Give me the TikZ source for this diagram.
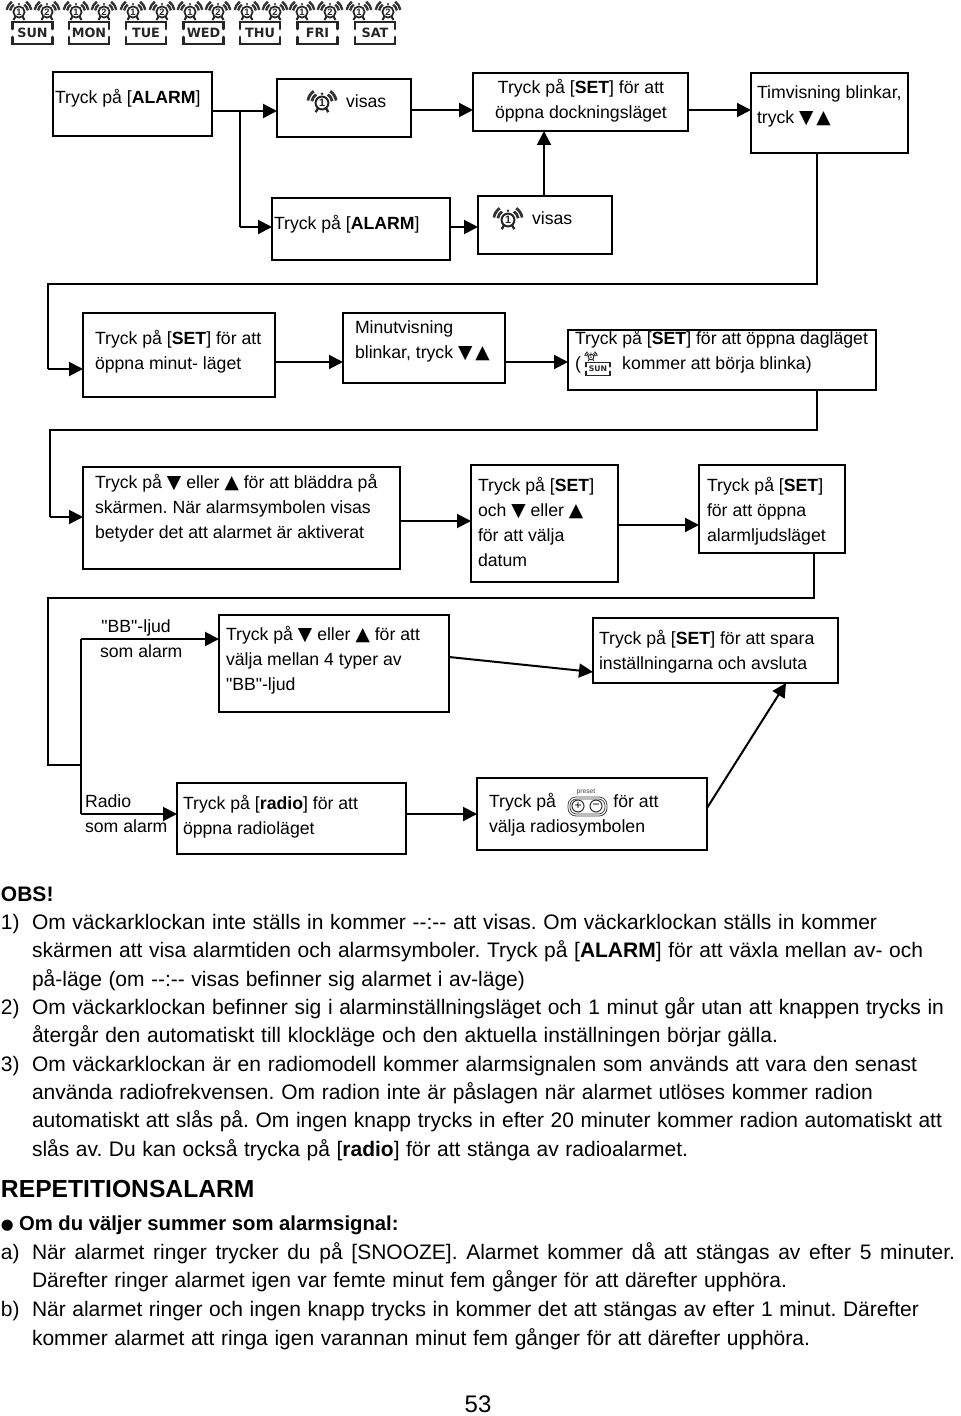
\documentclass[tikz,border=0pt]{standalone}
\usepackage{fontspec}
\setmainfont{Liberation Sans}
\newfontfamily\symf{DejaVu Sans}
\newfontfamily\qf{Liberation Sans}
\usetikzlibrary{arrows.meta}
\frenchspacing
\newcommand\dn{{\symf\fontsize{14}{14}\selectfont ▼}}
\newcommand\up{{\symf\fontsize{14}{14}\selectfont ▲}}
\newcommand\qq{{\qf"}}
\tikzset{
  boxn/.style={draw=black,line width=1.7pt,fill=none,inner sep=0pt,outer sep=0pt},
  lbl/.style={inner sep=0pt,outer sep=0pt,align=left,anchor=north west,
     font=\fontsize{13.25}{18.75}\selectfont},
  clbl/.style={lbl,align=center,anchor=north},
  wire/.style={line width=1.5pt,black},
  arr/.style={wire,-{Triangle[length=10.5pt,width=10.5pt]}},
  body/.style={inner sep=0pt,outer sep=0pt,anchor=base west,
     font=\fontsize{15.75}{20}\selectfont},
}
\newcommand\bx[5]{\node[boxn,minimum width={(#4-#2)*0.75pt},minimum height={(#5-#3)*0.75pt}] (#1) at ({(#2+#4)/2},{(#3+#5)/2}) {};}
\newcommand\bt[4]{\node[lbl] (#1) at (#2,#3-18.667) {\rule{0pt}{14pt}#4};}
\newcommand\bl[5]{\node[body] (#1) at (#2,#3) {\makebox[#4\dimexpr 0.75pt\relax][s]{#5}};}
% clock icon: name, x, y, scale, digit
\newcommand\clockat[5]{%
 \begin{scope}[shift={(#2,#3)},scale=#4]
  \draw[line width=#4*1.3pt,black!85] (0,0) circle[radius=5.6];
  \draw[line width=#4*1.5pt,black!85] (-3.5,4.5)--(-5.5,8) (3.5,4.5)--(5.5,8);
  \foreach \rr in {9,12.5}{
   \draw[line width=#4*1.8pt,black!80] (-170:\rr) arc[start angle=-170,end angle=-125,radius=\rr];
   \draw[line width=#4*1.8pt,black!80] (-10:\rr) arc[start angle=-10,end angle=-55,radius=\rr];
  }
  \fill[black!85] (0,-8) circle[radius=1.2];
 \end{scope}
 \node[inner sep=0pt,scale=#4,font=\bfseries\fontsize{7}{7}\selectfont,black!85] (#1) at (#2,#3) {#5};}
% day badge: name, x, y, scale, text
\newcommand\dayat[5]{%
 \begin{scope}[shift={(#2,#3)},scale=#4]
  \draw[line width=#4*2.2pt,black!85,line cap=round] (-20,-4)--(-20,-11)--(20,-11)--(20,-4) (-20,4)--(-20,11)--(20,11)--(20,4);
 \end{scope}
 \node[inner sep=0pt,scale=#4,font=\symf\bfseries\fontsize{9.6}{9.6}\selectfont,black!85] (#1) at (#2,#3) {#5};}
\begin{document}
\begin{tikzpicture}[x=0.75pt,y=-0.75pt]
\useasboundingbox (0,0) rectangle (960,1416);
% top icons
\foreach \cx [count=\ci] in {19,47,76,104,133,162,190,218,247,275,302,330,359,388}{
  \pgfmathtruncatemacro\dg{mod(\ci+1,2)+1}
  \clockat{tc\ci}{\cx}{12}{1}{\dg}
}
\foreach \dx/\dd [count=\di] in {32.5/SUN,89/MON,146/TUE,203.5/WED,260/THU,317.5/FRI,375/SAT}{
  \dayat{td\di}{\dx}{33}{1}{\dd}
}
% boxes
\bx{b1}{53}{72}{212}{136}
\bx{b2}{277}{79}{411}{137}
\bx{b3}{473}{73}{688}{131}
\bx{b4}{751}{73}{908}{153}
\bx{b5}{272}{198}{450}{260}
\bx{b5v}{478}{196}{612}{254}
\bx{b6}{83}{313}{275}{397}
\bx{b7}{343}{313}{505}{383}
\bx{b8}{568}{330}{876}{390}
\bx{b9}{83}{467}{400}{569}
\bx{b10}{471}{465}{618}{582}
\bx{b11}{699}{465}{845}{553}
\bx{b12}{219}{615}{449}{712}
\bx{b13}{593}{618}{838}{683}
\bx{b14}{177}{783}{406}{854}
\bx{b15}{477}{778}{707}{850}
% box texts
\bt{t1}{55}{104}{Tryck på [\textbf{ALARM}]}
\bt{t2}{346}{108}{visas}
\clockat{ic1}{322}{103}{1.15}{1}
\node[clbl] (t3) at (581,94-18.667) {\rule{0pt}{14pt}Tryck på [\textbf{SET}] för att\\öppna dockningsläget};
\bt{t4}{757}{99}{Timvisning blinkar,\\tryck \dn\,\up}
\bt{t5}{274}{229}{Tryck på [\textbf{ALARM}]}
\bt{t5v}{532}{225}{visas}
\clockat{ic2}{508}{220}{1.15}{1}
\bt{t6}{95}{344}{Tryck på [\textbf{SET}] för att\\öppna minut- läget}
\bt{t7}{355}{333}{Minutvisning\\blinkar, tryck \dn\,\up}
\bt{t8}{575}{344}{Tryck på [\textbf{SET}] för att öppna dagläget\\(\hspace{31pt}kommer att börja blinka)}
\clockat{ic3}{591}{357}{0.5}{1}
\dayat{ic4}{598}{369}{0.6}{SUN}
\bt{t9}{95}{488}{Tryck på \dn\ eller \up\ för att bläddra på\\skärmen. När alarmsymbolen visas\\betyder det att alarmet är aktiverat}
\bt{t10}{478}{491}{Tryck på [\textbf{SET}]\\och \dn\ eller \up\\för att välja\\datum}
\bt{t11}{707}{491}{Tryck på [\textbf{SET}]\\för att öppna\\alarmljudsläget}
\bt{t12a}{100}{632}{\hspace{1pt}\qq BB\qq-ljud\\som alarm}
\bt{t12}{226}{640}{Tryck på \dn\ eller \up\ för att\\välja mellan 4 typer av\\\qq BB\qq-ljud}
\bt{t13}{599}{644}{Tryck på [\textbf{SET}] för att spara\\inställningarna och avsluta}
\bt{t14a}{85}{807}{Radio\\som alarm}
\bt{t14}{183}{809}{Tryck på [\textbf{radio}] för att\\öppna radioläget}
\bt{t15}{489}{807}{Tryck på\hspace{43pt}för att\\välja radiosymbolen}
% preset icon
\draw[line width=0.6pt,black!75,rounded corners=6pt] (568,797) rectangle (607,816);
\draw[line width=0.6pt,black!75,rounded corners=5pt] (570,799) rectangle (605,814);
\node[draw=black!80,line width=0.8pt,circle,minimum size=9pt,inner sep=0pt,font=\fontsize{9}{9}\selectfont] (plusb) at (578,806) {+};
\node[draw=black!80,line width=0.8pt,circle,minimum size=9pt,inner sep=0pt,font=\fontsize{9}{9}\selectfont] (minusb) at (596,806) {−};
\node[inner sep=0pt,font=\fontsize{5}{5}\selectfont,black!75] (presett) at (586,792) {preset};
% junctions
\coordinate (j1a) at (240,111);
\coordinate (j1b) at (240,227);
\coordinate (j2a) at (48,284);
\coordinate (j2b) at (48,369);
\coordinate (j3a) at (50,430);
\coordinate (j3b) at (50,517);
\coordinate (j4a) at (48,598);
\coordinate (j4b) at (48,765);
\coordinate (j4c) at (81,765);
\coordinate (j4d) at (81,639);
\coordinate (j4e) at (81,814);
% connectors
\draw[arr] (b1.east |- j1a) -- (b2.west |- j1a);
\draw[wire] (j1a) -- (j1b);
\draw[arr] (j1b) -- (b5.west |- j1b);
\draw[arr] (b2.east |- 0,110) -- (b3.west |- 0,110);
\draw[arr] (b3.east |- 0,110) -- (b4.west |- 0,110);
\draw[arr] (b5.east |- 0,227) -- (b5v.west |- 0,227);
\draw[arr] (b5v.north -| 544,0) -- (b3.south -| 544,0);
\draw[wire] (b4.south -| 817,0) -- (j2a -| 817,0) -- (j2a) -- (j2b);
\draw[arr] (j2b) -- (b6.west |- j2b);
\draw[arr] (b6.east |- 0,362) -- (b7.west |- 0,362);
\draw[arr] (b7.east |- 0,362) -- (b8.west |- 0,362);
\draw[wire] (b8.south -| 817,0) -- (j3a -| 817,0) -- (j3a) -- (j3b);
\draw[arr] (j3b) -- (b9.west |- j3b);
\draw[arr] (b9.east |- 0,521) -- (b10.west |- 0,521);
\draw[arr] (b10.east |- 0,525) -- (b11.west |- 0,525);
\draw[wire] (b11.south -| 814,0) -- (j4a -| 814,0) -- (j4a) -- (j4b) -- (j4c);
\draw[wire] (j4d) -- (j4e);
\draw[arr] (j4d) -- (b12.west |- j4d);
\draw[arr] (j4e) -- (b14.west |- j4e);
\draw[arr] (b12.east |- 0,657) -- (b13.west |- 0,672);
\draw[arr] (b14.east |- 0,814) -- (b15.west |- 0,814);
\draw[arr] (b15.east |- 0,808) -- (b13.south -| 786,0);
% body text
\node[body,font=\bfseries\fontsize{15.75}{20}\selectfont] (obs) at (1,901) {OBS!};
\node[body] (n1) at (1,929) {1)};
\bl{l1}{32}{929}{845}{Om väckarklockan inte ställs in kommer -{}-:-{}- att visas. Om väckarklockan ställs in kommer}
\bl{l2}{32}{957}{891}{skärmen att visa alarmtiden och alarmsymboler. Tryck på [\textbf{ALARM}] för att växla mellan av- och}
\bl{l3}{32}{986}{493}{på-läge (om -{}-:-{}- visas befinner sig alarmet i av-läge)}
\node[body] (n2) at (1,1014) {2)};
\bl{l4}{32}{1014}{912}{Om väckarklockan befinner sig i alarminställningsläget och 1 minut går utan att knappen trycks in}
\bl{l5}{32}{1042}{746}{återgår den automatiskt till klockläge och den aktuella inställningen börjar gälla.}
\node[body] (n3) at (1,1071) {3)};
\bl{l6}{32}{1071}{885}{Om väckarklockan är en radiomodell kommer alarmsignalen som används att vara den senast}
\bl{l7}{32}{1099}{841}{använda radiofrekvensen. Om radion inte är påslagen när alarmet utlöses kommer radion}
\bl{l8}{32}{1127}{910}{automatiskt att slås på. Om ingen knapp trycks in efter 20 minuter kommer radion automatiskt att}
\bl{l9}{32}{1156}{656}{slås av. Du kan också trycka på [\textbf{radio}] för att stänga av radioalarmet.}
\node[body,font=\bfseries\fontsize{18.5}{22}\selectfont] (rep) at (1,1197) {REPETITIONSALARM};
\node[body,font=\symf\fontsize{11}{11}\selectfont] (bull) at (1,1229) {●};
\node[body,font=\bfseries\fontsize{15.2}{20}\selectfont] (som) at (19,1230) {Om du väljer summer som alarmsignal:};
\node[body] (na) at (1,1259) {a)};
\bl{l10}{32}{1259}{923}{När alarmet ringer trycker du på [SNOOZE]. Alarmet kommer då att stängas av efter 5 minuter.}
\bl{l11}{32}{1287}{755}{Därefter ringer alarmet igen var femte minut fem gånger för att därefter upphöra.}
\node[body] (nb) at (1,1316) {b)};
\bl{l12}{32}{1316}{887}{När alarmet ringer och ingen knapp trycks in kommer det att stängas av efter 1 minut. Därefter}
\bl{l13}{32}{1345}{778}{kommer alarmet att ringa igen varannan minut fem gånger för att därefter upphöra.}
\node[inner sep=0pt,font=\fontsize{18}{20}\selectfont,anchor=base] (pg) at (478,1412.5) {53};
\end{tikzpicture}
\end{document}
